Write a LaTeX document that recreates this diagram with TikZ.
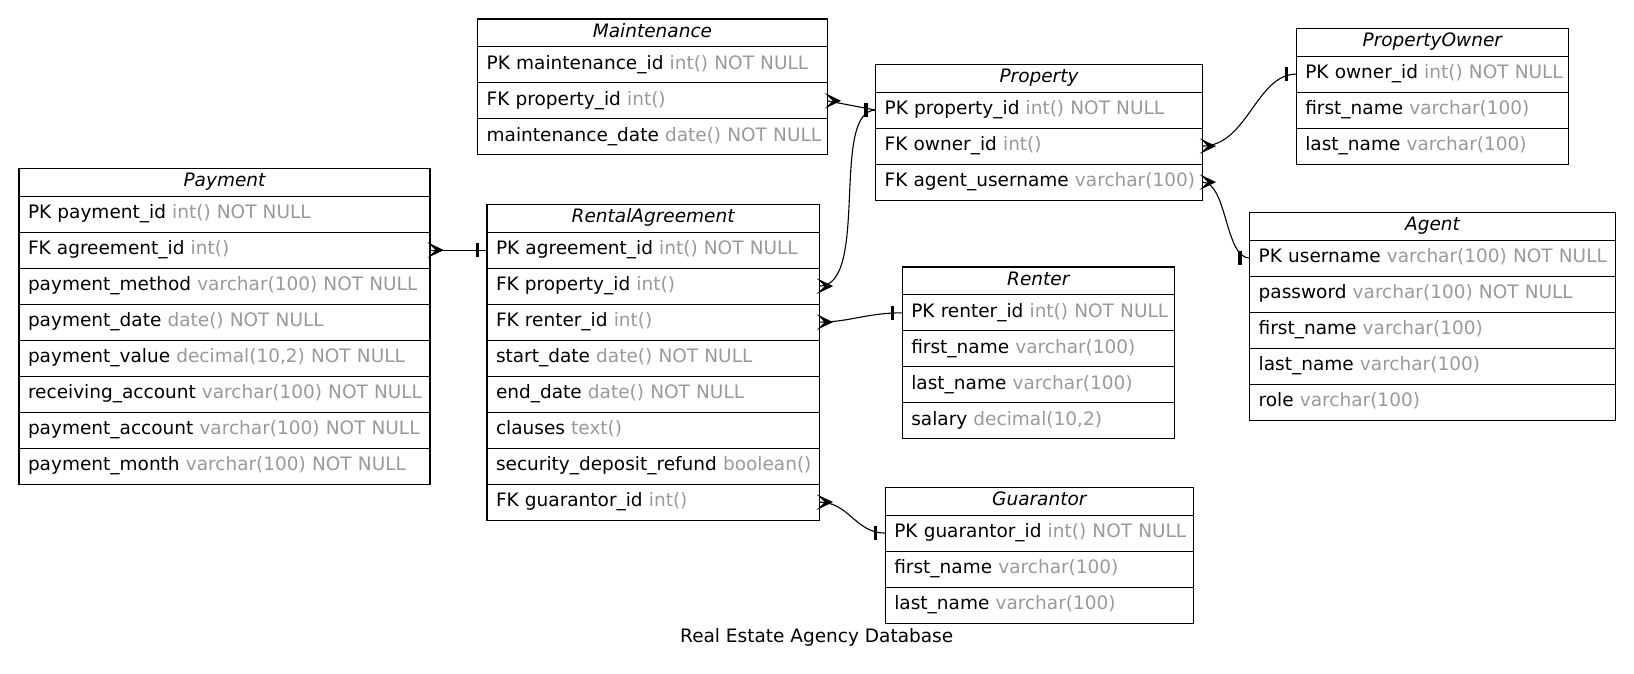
\documentclass[tikz,border=0pt]{standalone}
\usepackage{fontspec}
\setmainfont{DejaVu Sans}
\usetikzlibrary{arrows.meta}
\definecolor{grey60}{gray}{0.6}
\newcommand\Efont{\fontsize{18.5}{22}\selectfont}
\tikzset{
  cellbox/.style={draw, line width=1.1pt, rectangle, anchor=north west, inner ysep=0pt, inner xsep=9pt,
    outer sep=0pt, text height=13.5pt, text depth=4.5pt},
  titlebox/.style={cellbox, minimum height=27.8pt, align=center, font=\Efont\itshape},
  rowbox/.style={cellbox, minimum height=36pt, align=left},
  rel/.style={line width=1.1pt},
  teebar/.style={line width=3.3pt},
  crowfill/.style={fill=black, draw=black, line width=0.6pt, line join=miter}
}
\newcommand\Etab[5]{%
  \def\Etx{#2}\def\Ety{#3}\def\Etw{#4}%
  \pgfmathsetmacro\Etww{#4-18}%
  \node[titlebox, text width=\Etww pt, minimum width=#4pt] (#1) at (#2,#3) {\mbox{#5}};%
}
\newcommand\Erow[4]{%
  \pgfmathsetmacro\Ery{\Ety+27.8+(#2-1)*36}%
  \node[rowbox, text width=\Etww pt, minimum width=\Etw pt] (#1) at (\Etx,\Ery) {\mbox{#3 \textcolor{grey60}{#4}}};%
}
\newcommand\Etee[1]{%
  \draw[teebar] ([xshift=-9.7pt,yshift=-6.7pt]#1.west) -- ([xshift=-9.7pt,yshift=6.7pt]#1.west);%
}
\newcommand\Ecrow[1]{%
  \filldraw[crowfill] ([xshift=13pt]#1.east) -- ([xshift=-1pt,yshift=6.7pt]#1.east) -- ([xshift=6pt]#1.east)
    -- ([xshift=-1pt,yshift=-6.7pt]#1.east) -- cycle;%
}
\begin{document}
\begin{tikzpicture}[x=1pt,y=-1pt,font=\Efont]
\useasboundingbox (0,0) rectangle (1634,673);

\Etab{maint}{477.7}{19}{349.6}{Maintenance}
\Erow{maint-id}{1}{PK maintenance\_id}{int() NOT NULL}
\Erow{maint-prop}{2}{FK property\_id}{int()}
\Erow{maint-date}{3}{maintenance\_date}{date() NOT NULL}

\Etab{prop}{875.7}{64.3}{326.6}{Property}
\Erow{prop-id}{1}{PK property\_id}{int() NOT NULL}
\Erow{prop-owner}{2}{FK owner\_id}{int()}
\Erow{prop-agent}{3}{FK agent\_username}{varchar(100)}

\Etab{owner}{1296.3}{28.3}{272}{PropertyOwner}
\Erow{owner-id}{1}{PK owner\_id}{int() NOT NULL}
\Erow{owner-first}{2}{first\_name}{varchar(100)}
\Erow{owner-last}{3}{last\_name}{varchar(100)}

\Etab{agent}{1249.7}{212.3}{365.6}{Agent}
\Erow{agent-user}{1}{PK username}{varchar(100) NOT NULL}
\Erow{agent-pass}{2}{password}{varchar(100) NOT NULL}
\Erow{agent-first}{3}{first\_name}{varchar(100)}
\Erow{agent-last}{4}{last\_name}{varchar(100)}
\Erow{agent-role}{5}{role}{varchar(100)}

\Etab{pay}{19}{168.3}{411}{Payment}
\Erow{pay-id}{1}{PK payment\_id}{int() NOT NULL}
\Erow{pay-agr}{2}{FK agreement\_id}{int()}
\Erow{pay-method}{3}{payment\_method}{varchar(100) NOT NULL}
\Erow{pay-date}{4}{payment\_date}{date() NOT NULL}
\Erow{pay-value}{5}{payment\_value}{decimal(10,2) NOT NULL}
\Erow{pay-recv}{6}{receiving\_account}{varchar(100) NOT NULL}
\Erow{pay-acct}{7}{payment\_account}{varchar(100) NOT NULL}
\Erow{pay-month}{8}{payment\_month}{varchar(100) NOT NULL}

\Etab{ra}{487}{204.3}{332.3}{RentalAgreement}
\Erow{ra-id}{1}{PK agreement\_id}{int() NOT NULL}
\Erow{ra-prop}{2}{FK property\_id}{int()}
\Erow{ra-renter}{3}{FK renter\_id}{int()}
\Erow{ra-start}{4}{start\_date}{date() NOT NULL}
\Erow{ra-end}{5}{end\_date}{date() NOT NULL}
\Erow{ra-clauses}{6}{clauses}{text()}
\Erow{ra-refund}{7}{security\_deposit\_refund}{boolean()}
\Erow{ra-guar}{8}{FK guarantor\_id}{int()}

\Etab{renter}{902.3}{267}{272}{Renter}
\Erow{renter-id}{1}{PK renter\_id}{int() NOT NULL}
\Erow{renter-first}{2}{first\_name}{varchar(100)}
\Erow{renter-last}{3}{last\_name}{varchar(100)}
\Erow{renter-salary}{4}{salary}{decimal(10,2)}

\Etab{guar}{885.3}{487.3}{308}{Guarantor}
\Erow{guar-id}{1}{PK guarantor\_id}{int() NOT NULL}
\Erow{guar-first}{2}{first\_name}{varchar(100)}
\Erow{guar-last}{3}{last\_name}{varchar(100)}

% relations
\draw[rel] (pay-agr.east) -- (ra-id.west);
\Ecrow{pay-agr}\Etee{ra-id}
\draw[rel] (maint-prop.east) -- (prop-id.west);
\Ecrow{maint-prop}
\draw[rel] (ra-prop.east) .. controls +(51,0) and +(-46,0) .. (prop-id.west);
\Ecrow{ra-prop}\Etee{prop-id}
\draw[rel] (prop-owner.east) .. controls +(45,0) and +(-40,0) .. (owner-id.west);
\Ecrow{prop-owner}\Etee{owner-id}
\draw[rel] (prop-agent.east) .. controls +(25,0) and +(-25,0) .. (agent-user.west);
\Ecrow{prop-agent}\Etee{agent-user}
\draw[rel] (ra-renter.east) .. controls +(30,0) and +(-35,0) .. (renter-id.west);
\Ecrow{ra-renter}\Etee{renter-id}
\draw[rel] (ra-guar.east) .. controls +(30,0) and +(-30,0) .. (guar-id.west);
\Ecrow{ra-guar}\Etee{guar-id}

\node[anchor=base, inner sep=0pt] (caption) at (816.7,642.7) {Real Estate Agency Database};
\end{tikzpicture}
\end{document}
